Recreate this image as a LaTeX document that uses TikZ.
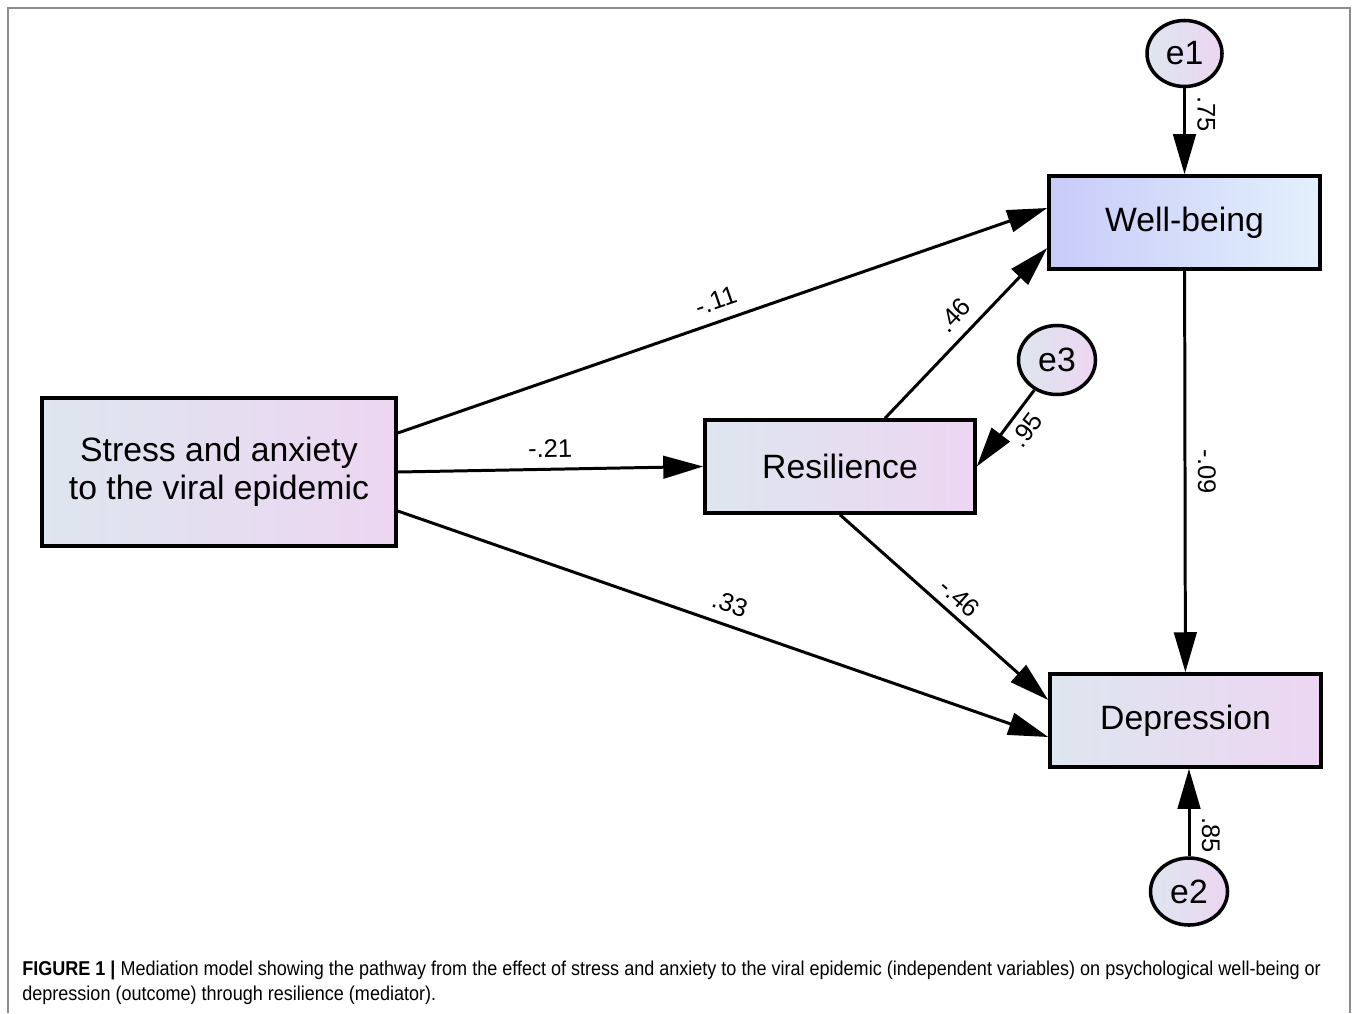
\documentclass[tikz,border=0pt]{standalone}
\usepackage{fontspec}
\setmainfont{Liberation Sans}
\newfontfamily\capfont[FakeStretch=0.9]{Liberation Sans}
\usetikzlibrary{arrows.meta,positioning,shapes.geometric}
\definecolor{amosleft}{RGB}{222,230,238}
\definecolor{amosright}{RGB}{236,214,242}
\definecolor{wbleft}{RGB}{201,203,249}
\definecolor{wbright}{RGB}{227,240,252}
\definecolor{framegray}{RGB}{140,140,140}

\begin{document}
\begin{tikzpicture}[
    block/.style={rectangle, draw, line width=2pt, left color=amosleft, right color=amosright, minimum width=5.42cm, minimum height=1.86cm, align=center, inner sep=0pt, font=\fontsize{19.2}{21.6}\selectfont},
    errblock/.style={ellipse, draw, line width=2pt, left color=amosleft, right color=amosright, minimum width=1.5cm, minimum height=1.32cm, inner sep=0pt, font=\fontsize{19.2}{21.6}\selectfont},
    effect/.style={line width=1.7pt, -{Triangle[length=0.8cm,width=0.45cm]}},
    coeff/.style={inner sep=4pt, font=\fontsize{14.5}{17}\selectfont},
    slopedcoeff/.style={coeff, sloped, above=2pt},
    vcoeff/.style={coeff, inner sep=6.5pt, rotate=-90, anchor=south}
]
\useasboundingbox (0,0) rectangle (27.16,-20.26);

% Frame
\draw[framegray, line width=0.8pt] (0.16,-20.26) -- (0.16,-0.16) -- (27.0,-0.16) -- (27.0,-20.26);

% Main blocks
\node[block, minimum width=7.08cm, minimum height=2.96cm] (stress) at (4.38,-9.44) {Stress and anxiety\\to the viral epidemic};
\node[block, minimum width=5.4cm] (res) at (16.8,-9.33) {Resilience};
\node[block, left color=wbleft, right color=wbright] (wb) at (23.69,-4.45) {Well-being};
\node[block] (dep) at (23.71,-14.41) {Depression};

% Error terms
\node[errblock, above=1.72cm of wb] (e1) {e1};
\node[errblock, minimum width=1.54cm, minimum height=1.38cm] (e3) at (21.14,-7.2) {e3};
\node[errblock, minimum width=1.54cm, minimum height=1.34cm, below=1.75cm of dep, xshift=0.07cm] (e2) {e2};

% Arrows
\draw[effect] ([yshift=0.78cm]stress.east) -- ([yshift=0.29cm]wb.west) node[slopedcoeff, pos=0.5] {-.11};
\draw[effect] (stress.east) -- (res.west) node[slopedcoeff, pos=0.5] {-.21};
\draw[effect] ([yshift=-0.78cm]stress.east) -- ([yshift=-0.33cm]dep.west) node[slopedcoeff, pos=0.5] {.33};
\draw[effect] ([xshift=0.9cm]res.north) -- ([yshift=-0.51cm]wb.west) node[slopedcoeff, pos=0.52] {.46};
\draw[effect] (res.south) -- ([yshift=0.41cm]dep.west) node[coeff, sloped, above, pos=0.52] {-.46};
\draw[effect] (e3) -- (res.east) node[coeff, sloped, below, pos=0.38] {.95};
\draw[effect] (e1) -- (wb) node[vcoeff, pos=0.3] {.75};
\draw[effect] (wb) -- (dep) node[vcoeff, pos=0.5] {-.09};
\draw[effect] (e2.north) -- (e2.north |- dep.south) node[vcoeff, pos=0.24] {.85};

% Caption
\node[anchor=base west, align=left, inner sep=0pt, font=\capfont\fontsize{11.4}{14.2}\selectfont] (caption) at (0.44,-20.0)
  {\textbf{FIGURE 1 |} Mediation model showing the pathway from the effect of stress and anxiety to the viral epidemic (independent variables) on psychological well-being or\\depression (outcome) through resilience (mediator).};

\end{tikzpicture}
\end{document}
